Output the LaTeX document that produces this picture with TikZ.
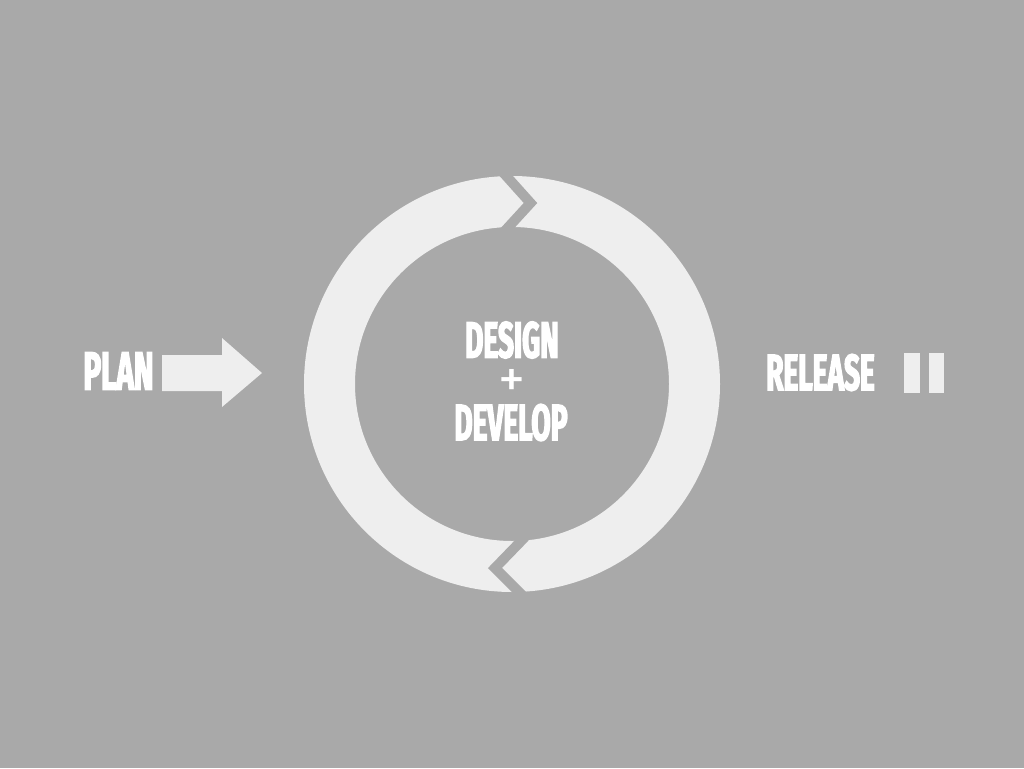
\documentclass[tikz,border=0pt]{standalone}
\usepackage{fontspec}
\usepackage{tikz}
\newfontfamily\gothic{Fira Sans}[FakeStretch=0.55,FakeBold=2.5]
\newfontfamily\plainsans{Fira Sans}
\definecolor{slate}{RGB}{169,169,169}
\definecolor{snow}{RGB}{238,238,238}

\begin{document}
\begin{tikzpicture}[x=1pt,y=-1pt]
\tikzstyle{lelement}=[text=white,font=\gothic\bfseries\fontsize{51}{51}\selectfont,inner sep=0pt]
\tikzstyle{gap}=[slate,line width=10pt,line join=miter]

\fill[slate] (0,0) rectangle (1024,768);
\useasboundingbox (0,0) rectangle (1024,768);

\fill[snow,even odd rule] (512,384) circle (208pt) (512,384) circle (157pt);
\draw[gap] (500,169) -- (530.5,203) -- (503,233);
\draw[gap] (525,537) -- (495,568) -- (525,598);

\fill[snow] (162,355) -- (222,355) -- (222,338) -- (262,373) -- (222,407) -- (222,391) -- (162,391) -- cycle;
\fill[snow] (904,353) rectangle (920,393);
\fill[snow] (929,353) rectangle (944,393);

\node [lelement, font=\gothic\bfseries\fontsize{54}{54}\selectfont] (A) at (118.5,371) {PLAN};
\node [lelement] (B) at (512,340) {DESIGN};
\node [lelement, font=\plainsans\fontsize{54}{54}\selectfont] (C) at (512,383) {+};
\node [lelement] (D) at (511,422.5) {DEVELOP};
\node [lelement] (E) at (820.5,372.5) {RELEASE};

\end{tikzpicture}
\end{document}
